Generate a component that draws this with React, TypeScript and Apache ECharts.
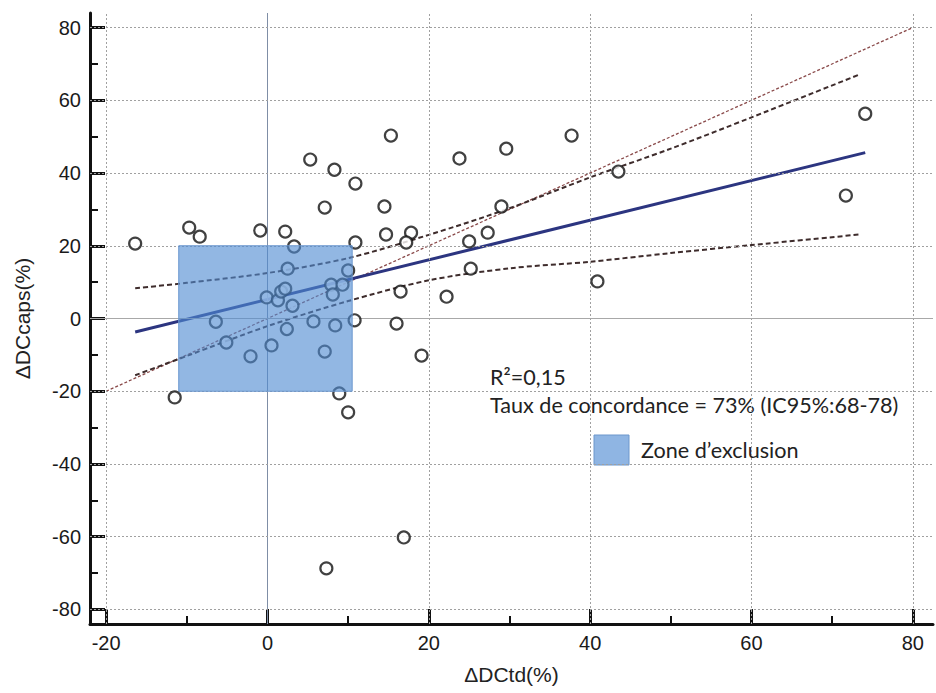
import React, { useEffect, useRef } from "react";
import * as echarts from "echarts";

// Scatter points (ΔDCtd %, ΔDCcaps %)
const pointX = [
  -16.4, -9.7, -8.4, -0.9, 2.2, 3.3, 2.5, -0.1, 1.3, 1.7, 2.2, 3.1, -6.4, 2.4, -5.1, -2.1, 0.5, -11.5,
  15.3, 5.3, 8.3, 10.9, 7.1, 14.5, 23.8, 14.7, 17.8, 17.2, 10.9, 25.0, 27.3, 25.2, 29.6, 37.7, 43.5,
  29.0, 40.9, 74.1, 71.7, 16.5, 22.2, 10.0, 7.9, 9.3, 8.1, 10.8, 5.7, 8.4, 16.0, 7.1, 19.1, 8.9, 10.0,
  7.3, 16.9,
];
const pointY = [
  20.6, 25.0, 22.5, 24.2, 23.9, 19.8, 13.7, 5.8, 5.0, 7.4, 8.2, 3.5, -0.9, -2.9, -6.6, -10.4, -7.4, -21.7,
  50.3, 43.7, 40.9, 37.1, 30.5, 30.8, 44.0, 23.1, 23.6, 20.9, 20.9, 21.2, 23.6, 13.7, 46.7, 50.3, 40.4,
  30.8, 10.2, 56.3, 33.8, 7.4, 6.0, 13.2, 9.3, 9.3, 6.6, -0.5, -0.8, -1.9, -1.4, -9.1, -10.2, -20.6, -25.8,
  -68.7, -60.2,
];

// Regression line
const regX = [-16.4, 74.1];
const regY = [-3.7, 45.6];

// 95% confidence band
const ciX = [-16.4, -10, 0, 10, 20, 30, 40, 50, 60, 73.4];
const ciUpper = [8.3, 9.8, 12.5, 16.6, 23.0, 30.3, 38.8, 46.7, 55.3, 67.1];
const ciLower = [-15.6, -10.3, -2.1, 4.8, 10.5, 13.8, 15.6, 18.0, 20.2, 23.1];

// Identity line
const identityX = [-20, 80];
const identityY = [-20, 80];

// Exclusion zone
const zoneX = [-11, 10.5];
const zoneY = [-20, 20];

// Axes
const xTicks = [-20, 0, 20, 40, 60, 80];
const xMinorTicks = [-10, 10, 30, 50, 70];
const yTicks = [-80, -60, -40, -20, 0, 20, 40, 60, 80];
const yMinorTicks = [-70, -50, -30, -10, 10, 30, 50, 70];
const xRange = [-22, 82.5];
const yRange = [-84, 84];

const r2Text = "R\u00b2=0,15";
const concordanceText = "Taux de concordance = 73% (IC95%:68-78)";
const legendText = "Zone d\u2019exclusion";
const xName = "\u0394DCtd(%)";
const yName = "\u0394DCcaps(%)";

export default function App() {
  const ref = useRef<HTMLDivElement>(null);

  useEffect(() => {
    document.body.style.margin = "0";
    if (!ref.current) return;
    const chart = echarts.init(ref.current, null, { renderer: "svg" });

    const zip = (a: number[], b: number[]) => a.map((v, i) => [v, b[i]]);
    const gridColor = "#a0a0a0";
    const axisFont = "Liberation Sans";

    const gridLines: any[] = [];
    xTicks.forEach((v) => {
      if (v === 0) gridLines.push({ xAxis: v, lineStyle: { type: "solid", color: "#7f8ea6", width: 1 } });
      else gridLines.push({ xAxis: v });
    });
    yTicks.forEach((v) => {
      if (v === 0) gridLines.push({ yAxis: v, lineStyle: { type: "solid", color: "#a8a8a8", width: 1 } });
      else gridLines.push({ yAxis: v });
    });

    const option: any = {
      animation: false,
      backgroundColor: "#ffffff",
      grid: { left: 90, top: 13, width: 843, height: 611, containLabel: false },
      xAxis: [
        {
          type: "value",
          min: xRange[0],
          max: xRange[1],
          position: "bottom",
          name: xName,
          nameLocation: "middle",
          nameGap: 40,
          nameTextStyle: { fontFamily: axisFont, fontSize: 21, color: "#222" },
          axisLine: { show: true, onZero: false, lineStyle: { color: "#111", width: 3 } },
          axisTick: { show: true, inside: true, length: 15, customValues: xTicks, lineStyle: { color: "#111", width: 3 } },
          axisLabel: { customValues: xTicks, margin: 9, fontFamily: axisFont, fontSize: 20, color: "#1a1a1a" },
          splitLine: { show: false },
        },
        {
          type: "value",
          min: xRange[0],
          max: xRange[1],
          position: "bottom",
          axisLine: { show: false, onZero: false },
          axisTick: { show: true, inside: true, length: 8, customValues: xMinorTicks, lineStyle: { color: "#111", width: 2 } },
          axisLabel: { show: false },
          splitLine: { show: false },
        },
      ],
      yAxis: [
        {
          type: "value",
          min: yRange[0],
          max: yRange[1],
          position: "left",
          name: yName,
          nameLocation: "middle",
          nameGap: 57,
          nameTextStyle: { fontFamily: axisFont, fontSize: 21, color: "#222" },
          axisLine: { show: true, onZero: false, lineStyle: { color: "#111", width: 3 } },
          axisTick: { show: true, inside: true, length: 15, customValues: yTicks, lineStyle: { color: "#111", width: 3 } },
          axisLabel: { customValues: yTicks, margin: 9, fontFamily: axisFont, fontSize: 20, color: "#1a1a1a" },
          splitLine: { show: false },
        },
        {
          type: "value",
          min: yRange[0],
          max: yRange[1],
          position: "left",
          axisLine: { show: false, onZero: false },
          axisTick: { show: true, inside: true, length: 8, customValues: yMinorTicks, lineStyle: { color: "#111", width: 2 } },
          axisLabel: { show: false },
          splitLine: { show: false },
        },
      ],
      series: [
        {
          type: "line",
          data: [],
          z: 1,
          silent: true,
          markLine: {
            silent: true,
            symbol: ["none", "none"],
            label: { show: false },
            lineStyle: { type: [2, 2], color: gridColor, width: 1 },
            emphasis: { disabled: true },
            data: gridLines,
          },
        },
        {
          type: "line",
          data: zip(identityX, identityY),
          symbol: "none",
          z: 3,
          silent: true,
          lineStyle: { color: "#8a4a4a", width: 1.3, type: [3, 2] },
        },
        {
          type: "line",
          data: zip(ciX, ciUpper),
          symbol: "none",
          smooth: 0.3,
          z: 3,
          silent: true,
          lineStyle: { color: "#3e2c2c", width: 2, type: [5, 3] },
        },
        {
          type: "line",
          data: zip(ciX, ciLower),
          symbol: "none",
          smooth: 0.3,
          z: 3,
          silent: true,
          lineStyle: { color: "#3e2c2c", width: 2, type: [5, 3] },
        },
        {
          type: "line",
          data: zip(regX, regY),
          symbol: "none",
          z: 4,
          silent: true,
          lineStyle: { color: "#2c3580", width: 3 },
        },
        {
          type: "scatter",
          data: zip(pointX, pointY),
          symbol: "circle",
          symbolSize: 12,
          z: 5,
          silent: true,
          itemStyle: { color: "#ffffff", borderColor: "#111111", borderWidth: 2.2 },
        },
        {
          type: "custom",
          z: 10,
          silent: true,
          data: [[zoneX[0], zoneY[0], zoneX[1], zoneY[1]]],
          encode: { x: [0, 2], y: [1, 3] },
          renderItem: (params: any, api: any) => {
            const p0 = api.coord([api.value(0), api.value(3)]);
            const p1 = api.coord([api.value(2), api.value(1)]);
            return {
              type: "rect",
              shape: { x: p0[0], y: p0[1], width: p1[0] - p0[0], height: p1[1] - p0[1] },
              style: { fill: "rgba(79,139,210,0.62)", stroke: "#6b97cf", lineWidth: 1 },
            };
          },
        },
      ],
      graphic: [
        {
          type: "text",
          x: 490,
          y: 377,
          style: { text: r2Text, font: "21.6px Lato", fill: "#222", textVerticalAlign: "middle" },
        },
        {
          type: "text",
          x: 490,
          y: 405,
          style: { text: concordanceText, font: "21.6px Lato", fill: "#222", textVerticalAlign: "middle" },
        },
        {
          type: "rect",
          shape: { x: 594, y: 435, width: 35, height: 30 },
          style: { fill: "#8fb5e3", stroke: "#6d97cc", lineWidth: 1 },
        },
        {
          type: "text",
          x: 641,
          y: 450,
          style: { text: legendText, font: "21.6px Lato", fill: "#222", textVerticalAlign: "middle" },
        },
      ],
    };

    chart.setOption(option);
    return () => chart.dispose();
  }, []);

  return <div ref={ref} style={{ width: 936, height: 693 }} />;
}
